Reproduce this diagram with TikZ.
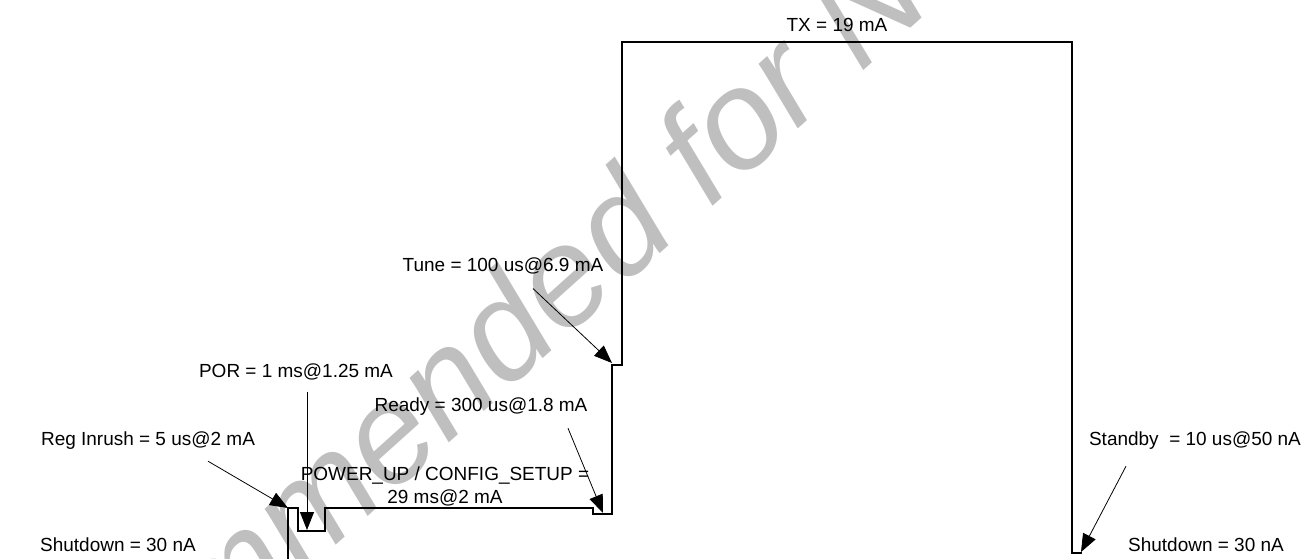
\documentclass[tikz,border=0pt]{standalone}
\usepackage{fontspec}
\setmainfont{Liberation Sans}
\usepackage{tikz}
\usetikzlibrary{arrows.meta}

\tikzset{
  lbl/.style={inner sep=0pt, font=\fontsize{10.8}{13.1}\selectfont, align=center},
  arr/.style={line width=0.45pt, -{Triangle[length=3.6mm,width=2.8mm]}},
  wave/.style={line width=0.6pt},
  wmark/.style={text=gray!50, inner sep=0pt, font=\fontsize{80}{96}\selectfont\itshape}
}

\begin{document}
\begin{tikzpicture}[x=0.2mm,y=-0.2mm]
\useasboundingbox (0,0) rectangle (1310,559);
\clip (0,0) rectangle (1310,559);

% watermark
\node[wmark, rotate=42, anchor=base west] (wm) at (-220,1046) {Not Recommended for New Designs};

% supply current profile
\draw[wave] (288,559) -- (288,508) -- (298,508) -- (298,531) -- (325,531) -- (325,508)
  -- (593,508) -- (593,514) -- (612,514) -- (612,365) -- (622,365) -- (622,42)
  -- (1072,42) -- (1072,553) -- (1082,553);

% arrow targets
\coordinate (inrush) at (288,508);
\coordinate (por) at (307,530);
\coordinate (ready) at (603,513);
\coordinate (tune) at (612,363);
\coordinate (stby) at (1081,552);

% labels
\node[lbl] (tx) at (837,25) {TX = 19 mA};
\node[lbl] (tunelbl) at (503,266) {Tune = 100 us@6.9 mA};
\node[lbl] (porlbl) at (296,372) {POR = 1 ms@1.25 mA};
\node[lbl] (readylbl) at (481,407) {Ready = 300 us@1.8 mA};
\node[lbl] (inrushlbl) at (148,441) {Reg Inrush = 5 us@2 mA};
\node[lbl] (powerup) at (445,486) {POWER\_UP / CONFIG\_SETUP =\\29 ms@2 mA};
\node[lbl] (stbylbl) at (1195,441) {Standby\ \ = 10 us@50 nA};
\node[lbl] (shdnl) at (118,545) {Shutdown = 30 nA};
\node[lbl] (shdnr) at (1206,545) {Shutdown = 30 nA};

% pointers
\draw[arr] ([shift={(60,11)}]inrushlbl.south) -- (inrush);
\draw[arr] ([shift={(11,11)}]porlbl.south) -- (por);
\draw[arr] ([shift={(87,12)}]readylbl.south) -- (ready);
\draw[arr] ([shift={(30,14)}]tunelbl.south) -- (tune);
\draw[arr] ([shift={(-69,16)}]stbylbl.south) -- (stby);
\end{tikzpicture}
\end{document}
